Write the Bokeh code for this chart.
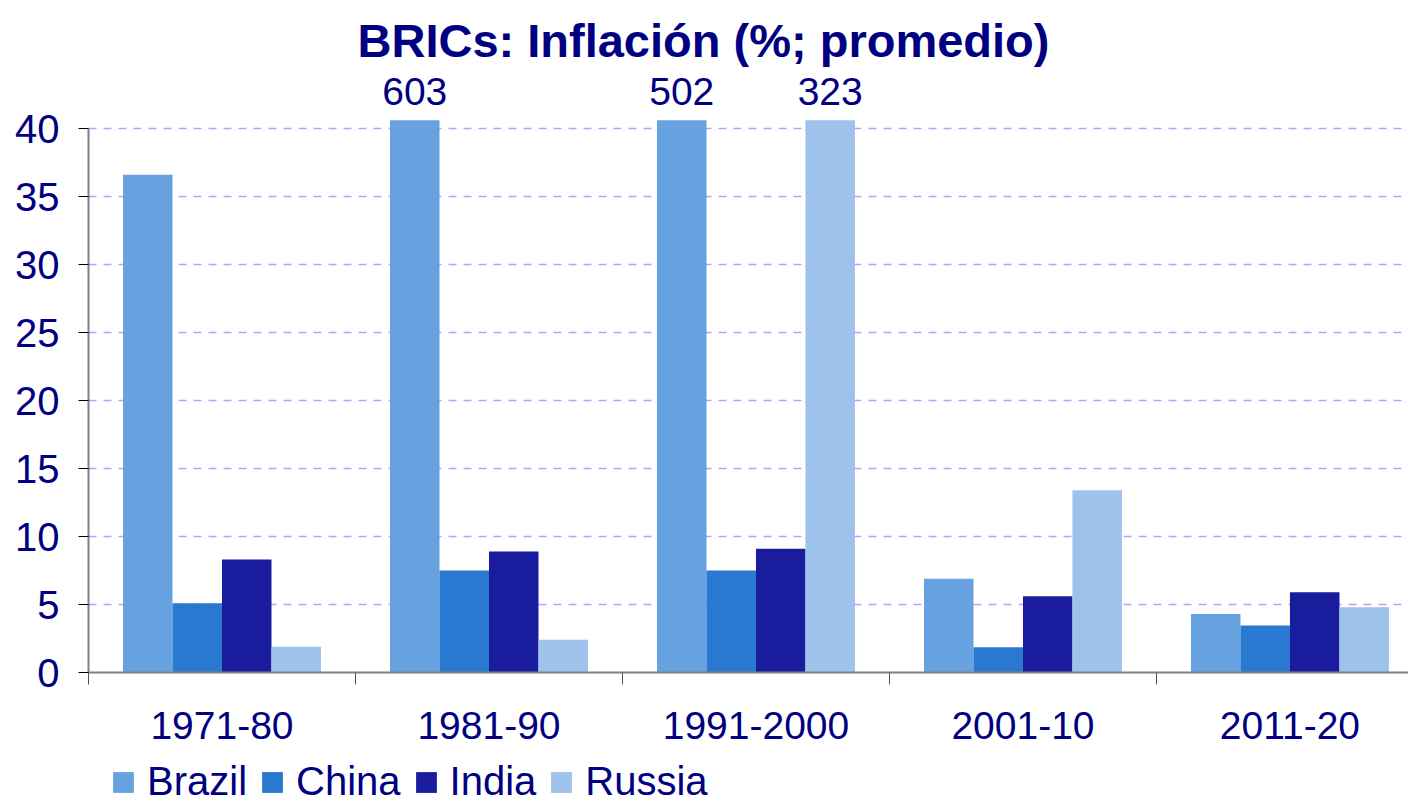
from bokeh.plotting import figure
from bokeh.layouts import column
from bokeh.models import (Range1d, FixedTicker, LinearAxis, Legend, LegendItem,
                          ColumnDataSource, Title)
from bokeh.core.properties import value
from bokeh.embed import file_html
from bokeh.resources import INLINE

# ---- data ----
periods = ["1971-80", "1981-90", "1991-2000", "2001-10", "2011-20"]
series_names = ["Brazil", "China", "India", "Russia"]
brazil = [36.6, 603, 502, 6.9, 4.3]
china = [5.1, 7.5, 7.5, 1.85, 3.45]
india = [8.3, 8.9, 9.1, 5.6, 5.9]
russia = [1.9, 2.4, 323, 13.4, 4.8]
y_ticks = [0, 5, 10, 15, 20, 25, 30, 35, 40]
title_text = "BRICs: Inflación (%; promedio)"

colors = ["#67A2E0", "#2979D0", "#191C9C", "#9DC2EB"]
NAVY = "#000080"
FONT = "Liberation Sans"
CAP = 40.6          # axis cut-off: bars above it are clipped and labelled
YEND = 43.75
PX_PER_UNIT = 13.6

p = figure(frame_width=1320, frame_height=int(round(YEND * PX_PER_UNIT)),
           output_backend="svg", toolbar_location=None,
           x_range=Range1d(0, 4.944), y_range=Range1d(0, YEND),
           min_border_left=88, min_border_right=0,
           min_border_top=76, min_border_bottom=86, outline_line_color=None)
p.xaxis.visible = False
p.xgrid.visible = False

# y axis styling
yax = p.yaxis[0]
yax.ticker = FixedTicker(ticks=y_ticks)
yax.bounds = (0, 40)
yax.axis_line_color = "#808080"
yax.axis_line_width = 2
yax.major_tick_line_color = "black"
yax.major_tick_out = 10
yax.major_tick_in = 0
yax.minor_tick_line_color = None
yax.major_label_text_font = FONT
yax.major_label_text_font_size = "40px"
yax.major_label_text_color = NAVY
yax.major_label_standoff = 19

p.ygrid.ticker = FixedTicker(ticks=y_ticks[1:])
p.ygrid.grid_line_color = "#C39BFF"
p.ygrid.grid_line_dash = "8 7"
p.ygrid.grid_line_width = 1.5

# x axis: boundary ticks
n = len(periods)
ax1 = LinearAxis(ticker=FixedTicker(ticks=list(range(n + 1))))
ax1.axis_line_color = "#808080"
ax1.axis_line_width = 2
ax1.major_tick_line_color = "#505050"
ax1.major_tick_out = 12
ax1.major_tick_in = 0
ax1.minor_tick_line_color = None
ax1.major_label_text_font_size = "0px"
ax1.major_label_standoff = 0
ax1.major_label_overrides = {i: "" for i in range(n + 1)}
p.add_layout(ax1, "below")

# x axis: category labels at centers
centers = [i + 0.5 for i in range(n)]
ax2 = LinearAxis(ticker=FixedTicker(ticks=centers))
ax2.axis_line_color = None
ax2.major_tick_line_color = None
ax2.minor_tick_line_color = None
ax2.major_tick_out = 0
ax2.major_tick_in = 0
ax2.major_label_overrides = {c: lab for c, lab in zip(centers, periods)}
ax2.major_label_text_font = FONT
ax2.major_label_text_font_size = "39px"
ax2.major_label_text_color = NAVY
ax2.major_label_standoff = 27
p.add_layout(ax2, "below")

# legend strip (separate figure; its glyph renderers lie outside its ranges)
p2 = figure(width=1408, height=46, output_backend="svg", toolbar_location=None,
            x_range=Range1d(100, 101), y_range=Range1d(100, 101),
            x_axis_type=None, y_axis_type=None, min_border=0,
            outline_line_color=None)
p2.grid.visible = False

# bars
offsets = [-0.278, -0.0927, 0.0927, 0.278]
bw = 0.1854
all_vals = [brazil, china, india, russia]
items = []
lab_x, lab_y, lab_t = [], [], []
for name, vals, off, col in zip(series_names, all_vals, offsets, colors):
    xs = [c + off for c in centers]
    tops = [min(v, CAP) for v in vals]
    src = ColumnDataSource(dict(x=xs, top=tops))
    p.vbar(x="x", top="top", width=bw, source=src, fill_color=col,
           line_color=None)
    r2 = p2.vbar(x="x", top="top", width=bw, source=src, fill_color=col,
                 line_color=None)
    items.append(LegendItem(label=name, renderers=[r2]))
    for x, v in zip(xs, vals):
        if v > CAP:
            lab_x.append(x)
            lab_y.append(CAP + 29 / PX_PER_UNIT)
            lab_t.append(str(int(round(v))))

lsrc = ColumnDataSource(dict(x=lab_x, y=lab_y, t=lab_t))
p.text(x="x", y="y", text="t", source=lsrc, text_align="center",
       text_baseline="alphabetic", text_font=value(FONT),
       text_font_size="39px", text_color=NAVY)

legend = Legend(items=items, orientation="horizontal", location=(22, 0),
                glyph_width=26, glyph_height=26, label_standoff=11, spacing=12,
                padding=0, margin=0, border_line_color=None,
                background_fill_alpha=0, label_text_font=FONT,
                label_text_font_size="40px", label_text_color=NAVY)
p2.add_layout(legend, "center")

p.title = Title(text=title_text, align="left", offset=269, standoff=22,
                text_font=FONT, text_font_size="47px", text_font_style="bold",
                text_color=NAVY)

layout = column(p, p2, spacing=0)
open("out.html", "w").write(file_html(layout, INLINE))
